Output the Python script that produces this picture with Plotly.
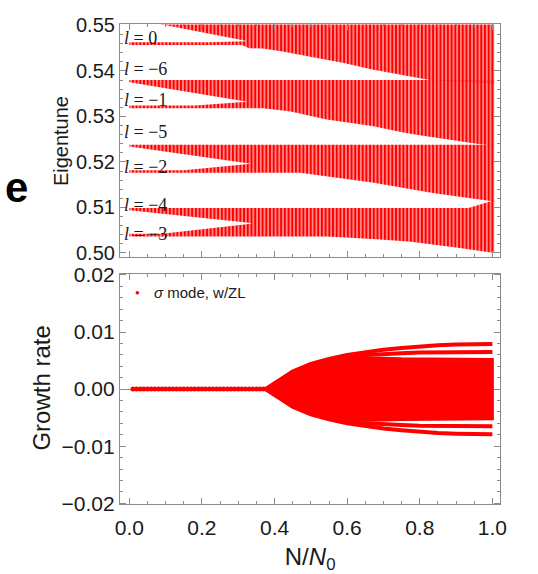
import numpy as np
import plotly.graph_objects as go

# ---------------- Eigentune spectrum: band outlines (N/N0, tune) ----------------
# Each band: flat top edge, lower edge, and the notch between the upper
# triangle and the isolated low-intensity mode line.
A_top_x = [0.0, 1.005]
A_top_y = [0.5520, 0.5520]
A_bot_x = [0.0, 0.31, 0.33, 0.368, 0.426, 0.4985, 0.588, 0.669, 0.827, 1.005]
A_bot_y = [0.5457, 0.5457, 0.5450, 0.5449, 0.5442, 0.5431, 0.5418, 0.5403, 0.5380, 0.5372]
A_line_x = [0.0, 0.22, 0.32]
A_line_y = [0.5463, 0.5463, 0.5465]
A_tri_x = [0.0, 0.32]
A_tri_y = [0.5516, 0.5466]

B_top_x = [0.0, 1.005]
B_top_y = [0.5380, 0.5380]
B_bot_x = [0.0, 0.368, 0.4445, 0.543, 0.669, 0.758, 0.804, 0.966, 1.005]
B_bot_y = [0.5318, 0.5318, 0.5311, 0.5293, 0.5279, 0.5264, 0.5258, 0.5239, 0.5236]
B_line_x = [0.0, 0.18, 0.325]
B_line_y = [0.5324, 0.5324, 0.5331]
B_tri_x = [0.0, 0.325]
B_tri_y = [0.5375, 0.5332]

C_top_x = [0.0, 1.005]
C_top_y = [0.5238, 0.5238]
C_bot_x = [0.0, 0.47, 0.669, 0.84, 0.9965, 1.005]
C_bot_y = [0.5176, 0.5176, 0.5155, 0.5131, 0.5114, 0.5113]
C_line_x = [0.0, 0.15, 0.335]
C_line_y = [0.5182, 0.5182, 0.5195]
C_tri_x = [0.0, 0.335]
C_tri_y = [0.5234, 0.5196]

D_top_x = [0.0, 0.934, 1.005]
D_top_y = [0.5099, 0.5099, 0.5116]
D_bot_x = [0.0, 0.543, 0.669, 0.77, 0.90, 1.005]
D_bot_y = [0.5036, 0.5036, 0.5031, 0.5025, 0.5012, 0.5000]
D_line_x = [0.0, 0.09, 0.335]
D_line_y = [0.5042, 0.5042, 0.5064]
D_tri_x = [0.0, 0.335]
D_tri_y = [0.5094, 0.5066]

# Azimuthal mode labels
mode_labels = ["0", "\u22126", "\u22121", "\u22125", "\u22122", "\u22124", "\u22123"]
mode_label_y = [0.5473, 0.5405, 0.5336, 0.5265, 0.5189, 0.5106, 0.5042]

# ---------------- Growth rate ----------------
N_stable = [round(0.01 * k, 2) for k in range(1, 39)]
rate_stable = [0.0] * len(N_stable)

fan_x = [0.375, 0.40, 0.45, 0.50, 0.55, 0.60, 0.65, 0.70, 0.75, 0.80, 0.85, 0.90, 0.95, 1.00]
outer_up = [0.0, 0.0010, 0.0031, 0.0044, 0.0053, 0.0060, 0.0065, 0.0069, 0.0072, 0.0075, 0.0077, 0.0078, 0.0079, 0.0079]
outer_lo = [0.0, -0.0010, -0.0031, -0.0044, -0.0053, -0.0060, -0.0065, -0.0069, -0.0072, -0.0075, -0.0077, -0.0078, -0.0079, -0.0079]
mass_up = [0.0, 0.0010, 0.0031, 0.0044, 0.0052, 0.0055, 0.0055, 0.0054, 0.0053, 0.0053, 0.0052, 0.0052, 0.0052, 0.0052]
mass_lo = [0.0, -0.0010, -0.0031, -0.0044, -0.0052, -0.0055, -0.0055, -0.0054, -0.0053, -0.0053, -0.0052, -0.0052, -0.0052, -0.0052]
branch_x = [0.60, 0.65, 0.70, 0.75, 0.80, 0.85, 0.90, 0.95, 1.00]
branch_up = [0.0058, 0.0060, 0.0062, 0.0063, 0.0064, 0.0064, 0.0065, 0.0065, 0.0065]
branch_lo = [-0.0058, -0.0060, -0.0062, -0.0063, -0.0064, -0.0064, -0.0065, -0.0065, -0.0065]

RED = "rgb(255,0,0)"
FRAME = "#8c8c8c"
SANS = "Liberation Sans, Arial, sans-serif"
SERIF = "Liberation Serif, Times New Roman, serif"

fig = go.Figure()

# column spacing of the N/N0 scan in pixels (dN = 0.01)
x_range = [-0.026, 1.022]
dom_x = [117.3 / 538, 505.7 / 538]
px_per_unit = (dom_x[1] - dom_x[0]) * 538 / (x_range[1] - x_range[0])
col_px = 0.01 * px_per_unit


def band_outline(tx, ty, bx, by, lx, ly, rx, ry):
    xs = list(tx) + list(bx[::-1]) + list(lx) + list(rx[::-1]) + [tx[0]]
    ys = list(ty) + list(by[::-1]) + list(ly) + list(ry[::-1]) + [ty[0]]
    return xs, ys


bands = [
    (A_top_x, A_top_y, A_bot_x, A_bot_y, A_line_x, A_line_y, A_tri_x, A_tri_y),
    (B_top_x, B_top_y, B_bot_x, B_bot_y, B_line_x, B_line_y, B_tri_x, B_tri_y),
    (C_top_x, C_top_y, C_bot_x, C_bot_y, C_line_x, C_line_y, C_tri_x, C_tri_y),
    (D_top_x, D_top_y, D_bot_x, D_bot_y, D_line_x, D_line_y, D_tri_x, D_tri_y),
]
for b in bands:
    xs, ys = band_outline(*b)
    fig.add_trace(go.Scatter(
        x=xs, y=ys, mode="lines", fill="toself",
        line=dict(width=0, color=RED),
        fillcolor="rgba(255,0,0,0)",
        fillpattern=dict(shape="|", size=col_px, solidity=0.72,
                         fgcolor=RED, bgcolor="rgba(255,225,225,0.6)",
                         fillmode="replace"),
        hoverinfo="skip", showlegend=False, xaxis="x", yaxis="y"))

# ---- growth rate panel ----
fig.add_trace(go.Scatter(
    x=fan_x + fan_x[::-1], y=mass_up + mass_lo[::-1], mode="lines", fill="toself",
    fillcolor=RED, line=dict(color=RED, width=3), hoverinfo="skip",
    showlegend=False, xaxis="x2", yaxis="y2"))
for yy in (outer_up, outer_lo):
    fig.add_trace(go.Scatter(x=fan_x, y=yy, mode="lines", line=dict(color=RED, width=4),
                             hoverinfo="skip", showlegend=False, xaxis="x2", yaxis="y2"))
for yy in (branch_up, branch_lo):
    fig.add_trace(go.Scatter(x=branch_x, y=yy, mode="lines", line=dict(color=RED, width=4),
                             hoverinfo="skip", showlegend=False, xaxis="x2", yaxis="y2"))
fig.add_trace(go.Scatter(x=N_stable, y=rate_stable, mode="markers",
                         marker=dict(color=RED, size=5, line=dict(width=0)),
                         hoverinfo="skip", showlegend=False, xaxis="x2", yaxis="y2"))

axis_common = dict(
    showline=True, linecolor=FRAME, linewidth=1, mirror="ticks",
    ticks="inside", tickcolor=FRAME, ticklen=6, tickwidth=1,
    showgrid=False, zeroline=False, layer="above traces",
    tickfont=dict(family=SANS, size=20, color="#1a1a1a"),
)

fig.update_layout(
    width=538, height=574, margin=dict(l=0, r=0, t=0, b=0),
    paper_bgcolor="white", plot_bgcolor="white",
    xaxis=dict(domain=dom_x, range=x_range, anchor="y", tick0=0, dtick=0.2,
               showticklabels=False,
               minor=dict(ticks="inside", dtick=0.05, ticklen=3, tickcolor=FRAME),
               **axis_common),
    yaxis=dict(domain=[(574 - 256) / 574, (574 - 15) / 574], range=[0.4991, 0.5502],
               anchor="x", tick0=0.5, dtick=0.01, tickformat=".2f",
               minor=dict(ticks="inside", dtick=0.002, ticklen=3, tickcolor=FRAME),
               **axis_common),
    xaxis2=dict(domain=dom_x, range=x_range, anchor="y2", tick0=0, dtick=0.2,
                tickformat=".1f", ticklabelstandoff=4,
                title=dict(text="N/<i>N</i><sub>0</sub>", standoff=10,
                           font=dict(family=SANS, size=24, color="#1a1a1a")),
                minor=dict(ticks="inside", dtick=0.05, ticklen=3, tickcolor=FRAME),
                **{**axis_common, "tickfont": dict(family=SANS, size=21, color="#1a1a1a")}),
    yaxis2=dict(domain=[(574 - 512.3) / 574, (574 - 273.3) / 574], range=[-0.0202, 0.0202],
                anchor="x2", tick0=0, dtick=0.01, tickformat=".2f",
                minor=dict(ticks="inside", dtick=0.002, ticklen=3, tickcolor=FRAME),
                **{**axis_common, "zeroline": True, "zerolinecolor": "#8c8c8c",
                   "zerolinewidth": 1,
                   "tickfont": dict(family=SANS, size=21, color="#1a1a1a")}),
)

annotations = []
for lab, yv in zip(mode_labels, mode_label_y):
    annotations.append(dict(
        x=-0.019, y=yv, xref="x", yref="y", xanchor="left", yanchor="middle",
        text=f"<i>l</i> = {lab}", showarrow=False,
        font=dict(family=SERIF, size=18, color="#1a1a1a")))

annotations += [
    dict(x=57 / 538, y=1 - 136 / 574, xref="paper", yref="paper", text="Eigentune",
         textangle=-90, showarrow=False, xanchor="center", yanchor="middle",
         font=dict(family=SANS, size=20, color="#1a1a1a")),
    dict(x=37 / 538, y=1 - 392 / 574, xref="paper", yref="paper", text="Growth rate",
         textangle=-90, showarrow=False, xanchor="center", yanchor="middle",
         font=dict(family=SANS, size=24, color="#1a1a1a")),
    dict(x=-2 / 538, y=1 - 184 / 574, xref="paper", yref="paper", text="<b>e</b>",
         showarrow=False, xanchor="left", yanchor="middle",
         font=dict(family=SANS, size=42, color="black")),
    dict(x=135 / 538, y=1 - 293 / 574, xref="paper", yref="paper", text="\u25cf",
         showarrow=False, xanchor="center", yanchor="middle",
         font=dict(family=SANS, size=8, color=RED)),
    dict(x=150 / 538, y=1 - 293 / 574, xref="paper", yref="paper",
         text="<i>\u03c3</i> mode, w/ZL", showarrow=False, xanchor="left", yanchor="middle",
         font=dict(family=SANS, size=15, color="#1a1a1a")),
]
fig.update_layout(annotations=annotations)

fig.write_html("out.html")
